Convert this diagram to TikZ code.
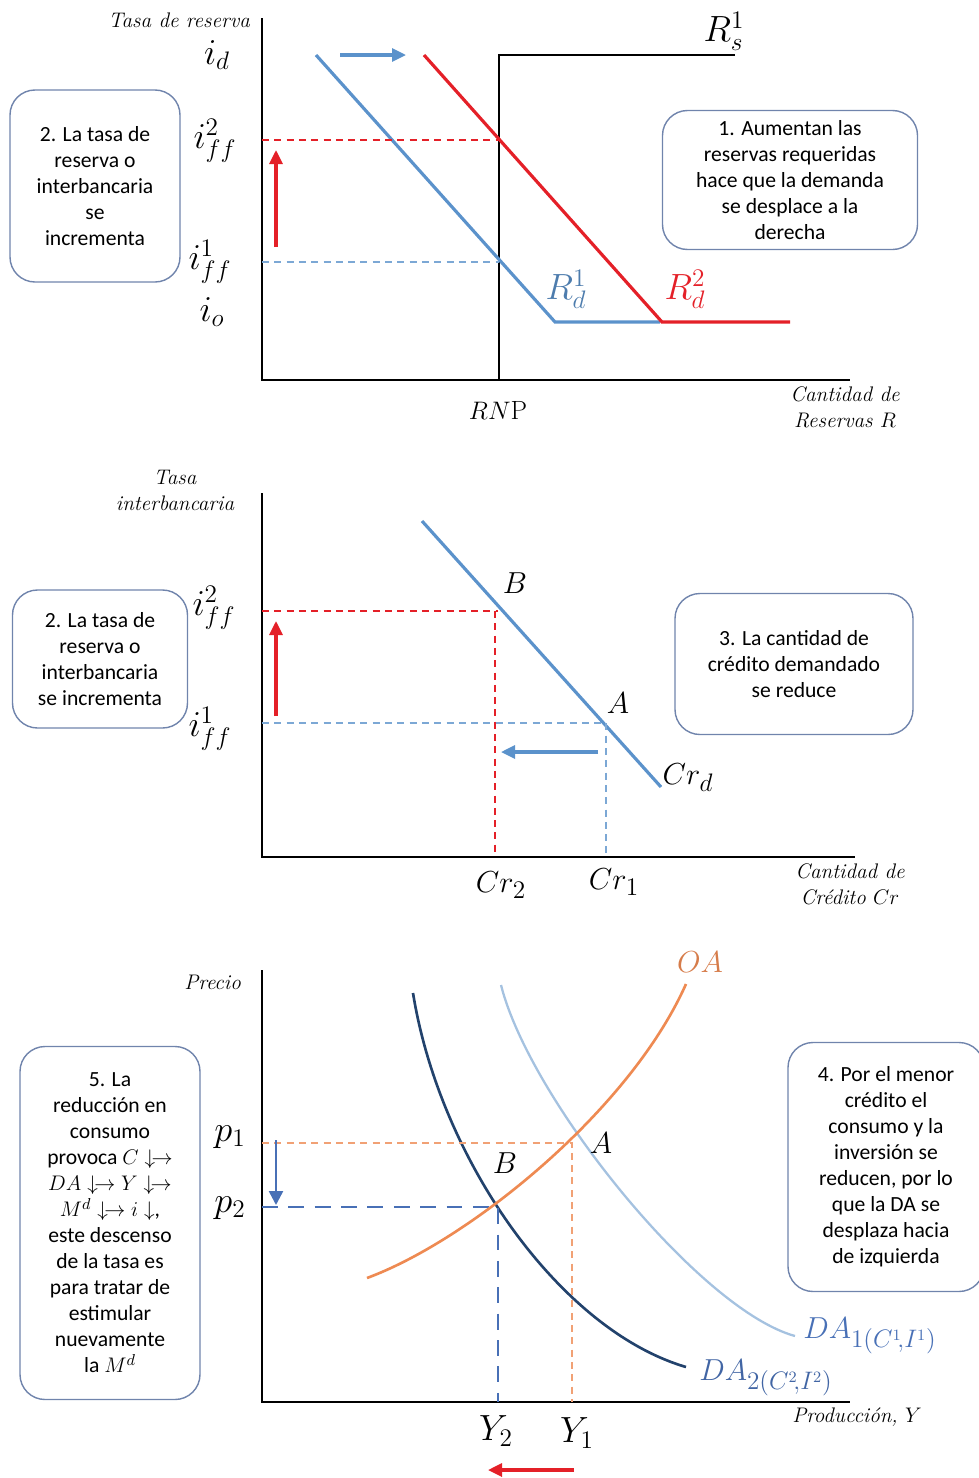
\documentclass[tikz,border=0pt]{standalone}
\usepackage{fontspec}
\newfontfamily\boxfont{Carlito}
\usetikzlibrary{arrows.meta}
\definecolor{linblue}{RGB}{91,146,203}
\definecolor{linred}{RGB}{228,32,40}
\definecolor{linorange}{RGB}{238,138,82}
\definecolor{darkda}{RGB}{34,66,108}
\definecolor{lightda}{RGB}{165,194,224}
\definecolor{boxedge}{RGB}{112,132,172}
\definecolor{dashblue}{RGB}{72,112,182}
\tikzset{
  axis/.style={line width=1.1pt,black},
  curve/.style={line width=1.8pt},
  guide/.style={dashed,line width=0.6pt,dash pattern=on 4pt off 3pt},
  shiftarrow/.style={line width=1.8pt,-{Triangle[length=2.8mm,width=2.6mm]}},
  infobox/.style={draw=boxedge,line width=0.8pt,rounded corners=5mm,align=center,
    inner sep=2pt,font=\boxfont\fontsize{12.3}{14.8}\selectfont},
  axislabel/.style={align=center,font=\itshape\fontsize{12}{14.8}\selectfont},
  mathlabel/.style={inner sep=0pt,font=\fontsize{20}{22}\selectfont},
  biglabel/.style={inner sep=0pt,font=\fontsize{19}{22}\selectfont},
  bottomlabel/.style={inner sep=0pt,font=\fontsize{22}{24}\selectfont}
}
\begin{document}
\begin{tikzpicture}[x=0.2mm,y=-0.2mm]
\useasboundingbox (0,0) rectangle (979,1478);
% primer panel: reservas
\coordinate (o1) at (262,380);
\coordinate (y1top) at (262,18);
\coordinate (x1end) at (850,380);
\coordinate (rsbot) at (499,380);
\coordinate (rscorner) at (499,55);
\coordinate (rsend) at (735,55);
\coordinate (rd1a) at (316,55);
\coordinate (rd1b) at (555,322);
\coordinate (rd1c) at (660,322);
\coordinate (rd2a) at (424,55);
\coordinate (rd2b) at (662,322);
\coordinate (rd2c) at (790,322);
\draw[axis] (y1top) -- (o1) -- (x1end);
\draw[axis] (rsbot) -- (rscorner) -- (rsend);
\draw[curve,linblue] (rd1a) -- (rd1b) -- (rd1c);
\draw[curve,linred] (rd2a) -- (rd2b) -- (rd2c);
\coordinate (iff2a) at (262,140);
\coordinate (iff2b) at (499,140);
\coordinate (iff1a) at (262,262);
\coordinate (iff1b) at (499,262);
\draw[guide,linred] (iff2a) -- (iff2b);
\draw[guide,linblue!80] (iff1a) -- (iff1b);
\coordinate (sh1a) at (340,55);
\coordinate (sh1b) at (406,55);
\coordinate (up1a) at (276,247);
\coordinate (up1b) at (276,150);
\draw[shiftarrow,linblue] (sh1a) -- (sh1b);
\draw[shiftarrow,linred] (up1a) -- (up1b);
\begin{scope}[every node/.style={mathlabel}]
  \node (id) at (217,55) {$i_d$};
  \node (iff2) at (215,141) {$i_{ff}^2$};
  \node (iff1) at (210,262) {$i_{ff}^1$};
  \node (io) at (212,312) {$i_o$};
  \node (rs1) at (724,31) {$R_s^1$};
  \node[linblue!85!black] (rd1) at (566,289) {$R_d^1$};
  \node[linred] (rd2) at (685,289) {$R_d^2$};
\end{scope}
\node[inner sep=0pt,font=\fontsize{15}{18}\selectfont] (rnp) at (498,410) {$RN$P};
\node[axislabel,anchor=east] (tasa1) at (256,20) {Tasa de reserva};
\node[axislabel] (cant1) at (845,407) {Cantidad de\\Reservas $R$};
\node[infobox,minimum width=51mm,minimum height=27.8mm] (box1) at (790,180)
  {1. Aumentan las\\reservas requeridas\\hace que la demanda\\se desplace a la\\derecha};
\node[infobox,minimum width=34mm,minimum height=38.4mm] (box2) at (95,186)
  {2. La tasa de\\reserva o\\interbancaria\\se\\incrementa};
% segundo panel: credito
\coordinate (o2) at (262,857);
\coordinate (y2top) at (262,493);
\coordinate (x2end) at (855,857);
\coordinate (crda) at (422,521);
\coordinate (crdb) at (661,787);
\draw[axis] (y2top) -- (o2) -- (x2end);
\draw[curve,linblue] (crda) -- (crdb);
\coordinate (bh) at (262,611);
\coordinate (bpt) at (498,611);
\coordinate (bv) at (495,611);
\coordinate (bbase) at (495,857);
\coordinate (ah) at (262,723);
\coordinate (apt) at (606,723);
\coordinate (abase) at (606,857);
\draw[guide,linred] (bh) -- (bpt);
\draw[guide,linred] (bv) -- (bbase);
\draw[guide,linblue!80] (ah) -- (apt) -- (abase);
\coordinate (up2a) at (276,716);
\coordinate (up2b) at (276,621);
\coordinate (lf2a) at (598,752);
\coordinate (lf2b) at (501,752);
\draw[shiftarrow,linred] (up2a) -- (up2b);
\draw[shiftarrow,linblue] (lf2a) -- (lf2b);
\begin{scope}[every node/.style={mathlabel}]
  \node (iff2b) at (214,608) {$i_{ff}^2$};
  \node (iff1b) at (210,729) {$i_{ff}^1$};
\end{scope}
\begin{scope}[every node/.style={biglabel}]
  \node (ptb) at (515,583) {$B$};
  \node (pta) at (618,703) {$A$};
  \node (crd) at (688,778) {$Cr_d$};
  \node (cr2) at (501,885) {$Cr_2$};
  \node (cr1) at (614,882) {$Cr_1$};
\end{scope}
\node[axislabel] (tasa2) at (175,490) {Tasa\\interbancaria};
\node[axislabel] (cant2) at (850,884) {Cantidad de\\Cr\'edito $Cr$};
\node[infobox,minimum width=35mm,minimum height=27.6mm] (box2b) at (100,659)
  {2. La tasa de\\reserva o\\interbancaria\\se incrementa};
\node[infobox,minimum width=47.6mm,minimum height=28.2mm] (box3) at (794,664)
  {3. La cantidad de\\cr\'edito demandado\\se reduce};
% tercer panel: OA y DA
\coordinate (o3) at (262,1402);
\coordinate (y3top) at (262,970);
\coordinate (x3end) at (850,1402);
\draw[axis] (y3top) -- (o3) -- (x3end);
\coordinate (oaa) at (367,1278);
\coordinate (oab) at (686,984);
\coordinate (da2a) at (413,993);
\coordinate (da2b) at (686,1367);
\coordinate (da1a) at (501,985);
\coordinate (da1b) at (795,1336);
\draw[line width=1.3pt,lightda] (da1a) .. controls (530,1100) and (700,1310) .. (da1b);
\draw[line width=1.5pt,darkda] (da2a) .. controls (440,1160) and (560,1330) .. (da2b);
\coordinate (p1h) at (262,1143);
\coordinate (eqa) at (572,1143);
\coordinate (y1b) at (572,1402);
\coordinate (p2h) at (262,1207);
\coordinate (eqb) at (498,1207);
\coordinate (y2b) at (498,1402);
\draw[guide,linorange!80] (p1h) -- (eqa) -- (y1b);
\draw[dashblue,line width=1.6pt,dash pattern=on 9pt off 6pt] (p2h) -- (eqb) -- (y2b);
\draw[line width=1.5pt,linorange] (oaa) .. controls (470,1240) and (630,1110) .. (oab);
\coordinate (dn3a) at (276,1140);
\coordinate (dn3b) at (276,1205);
\coordinate (lf3a) at (574,1470);
\coordinate (lf3b) at (488,1470);
\draw[line width=1.4pt,dashblue,-{Triangle[length=2.8mm,width=2.8mm]}] (dn3a) -- (dn3b);
\draw[shiftarrow,linred] (lf3a) -- (lf3b);
\begin{scope}[every node/.style={bottomlabel}]
  \node (p1) at (230,1137) {$p_1$};
  \node (p2) at (230,1208) {$p_2$};
  \node (y2) at (496,1431) {$Y_2$};
  \node (y1) at (577,1433) {$Y_1$};
\end{scope}
\begin{scope}[every node/.style={biglabel}]
  \node[linorange!90!black] (oa) at (700,962) {$OA$};
  \node[dashblue] (da1) at (870,1336) {$DA_{1(C^1\!,I^1)}$};
  \node[dashblue!90!black] (da2) at (766,1378) {$DA_{2(C^2\!,I^2)}$};
  \node (pa) at (601,1143) {$A$};
  \node (pb) at (505,1163) {$B$};
\end{scope}
\node[axislabel,anchor=east] (precio) at (247,982) {Precio};
\node[axislabel] (prod) at (857,1417) {Producci\'on, $Y$};
\node[infobox,minimum width=36mm,minimum height=70.6mm] (box5) at (110,1223)
  {5. La\\reducci\'on en\\consumo\\provoca $C\downarrow\!\rightarrow$\\$DA\downarrow\!\rightarrow Y\downarrow\!\rightarrow$\\$M^d\downarrow\!\rightarrow i\downarrow$,\\este descenso\\de la tasa es\\para tratar de\\estimular\\nuevamente\\la $M^d$};
\node[infobox,minimum width=39.2mm,minimum height=49.8mm] (box4) at (886,1167)
  {4. Por el menor\\cr\'edito el\\consumo y la\\inversi\'on se\\reducen, por lo\\que la DA se\\desplaza hacia\\de izquierda};
\end{tikzpicture}
\end{document}
